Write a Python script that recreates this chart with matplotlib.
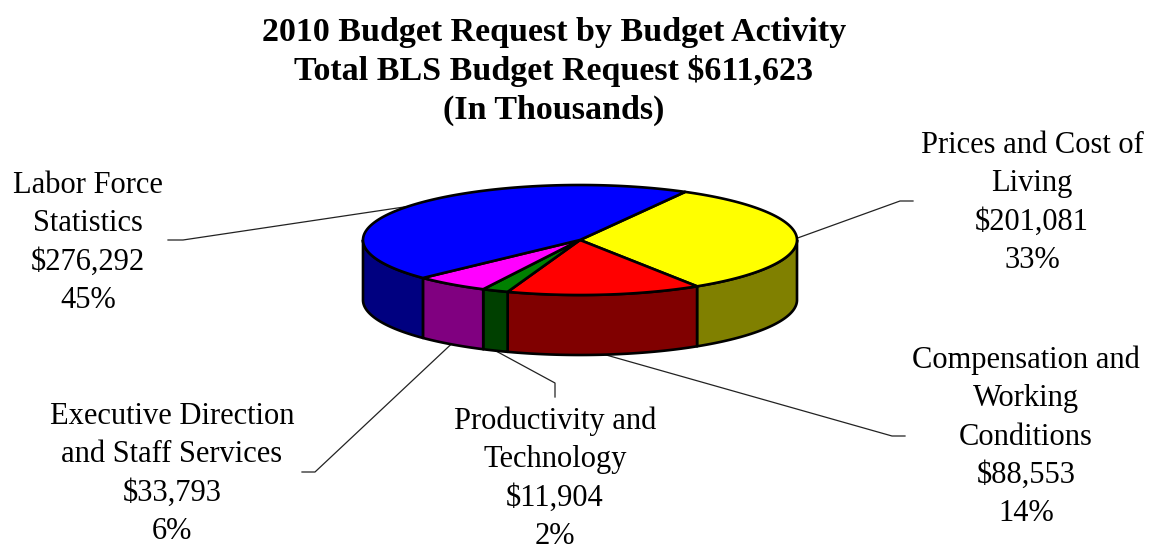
import numpy as np
import matplotlib
matplotlib.use("Agg")
import matplotlib.pyplot as plt
from matplotlib.patches import Polygon

# ---- data ----
categories = ["Prices and Cost of\nLiving",
              "Compensation and\nWorking\nConditions",
              "Productivity and\nTechnology",
              "Executive Direction\nand Staff Services",
              "Labor Force\nStatistics"]
values = [201081, 88553, 11904, 33793, 276292]
top_colors = ["#FFFF00", "#FF0000", "#008000", "#FF00FF", "#0000FF"]
side_colors = ["#808000", "#800000", "#004000", "#800080", "#000080"]
title_lines = ["2010 Budget Request by Budget Activity",
               "Total BLS Budget Request $611,623",
               "(In Thousands)"]

# ---- layout (pixel space) ----
W, H = 1153, 552
cx, cy = 580, 240          # center of top face
ra, rb = 217, 55           # ellipse semi-axes
depth = 60
start_deg = 61.0           # boundary at which first slice begins (clockwise)
# label layout: (center x, first baseline y), and elbow path points
label_pos = [(1032, 153), (1026, 368), (555, 429), (172, 424), (88, 193)]
elbows = [[(900, 201), (913, 201)],
          [(892, 436), (905, 436)],
          [(555, 383), (555, 397)],
          [(315, 472), (302, 472)],
          [(183, 240), (168, 240)]]
line_step = 38.3

fig = plt.figure(figsize=(W / 100, H / 100), dpi=100)
ax = fig.add_axes([0, 0, 1, 1])
ax.set_xlim(0, W)
ax.set_ylim(H, 0)
ax.axis("off")

total = float(sum(values))
fracs = [v / total for v in values]

def pt(t, dy=0.0):
    r = np.radians(t)
    return cx + ra * np.cos(r), cy - rb * np.sin(r) + dy

# compute slice angle ranges (clockwise from start)
ranges = []
a = start_deg
for f in fracs:
    b = a - 360 * f
    ranges.append((b, a))   # lo, hi
    a = b

lw = 1.9
# side walls (front half: angles in [-180, 0] mod 360)
for (lo, hi), sc in zip(ranges, side_colors):
    for base in (-360, 0, 360):
        s = max(lo, -180 + base)
        e = min(hi, 0 + base)
        if e > s:
            ts = np.linspace(s, e, 80)
            top = [pt(t) for t in ts]
            bot = [pt(t, depth) for t in ts[::-1]]
            ax.add_patch(Polygon(top + bot, closed=True, facecolor=sc,
                                 edgecolor="black", lw=lw, joinstyle="round",
                                 zorder=2))

# top faces
for (lo, hi), tc in zip(ranges, top_colors):
    ts = np.linspace(hi, lo, 200)
    poly = [(cx, cy)] + [pt(t) for t in ts]
    ax.add_patch(Polygon(poly, closed=True, facecolor=tc, edgecolor="black",
                         lw=lw, joinstyle="round", zorder=3))

# labels & leader lines
serif = "Liberation Serif"
for i, (cat, v, f) in enumerate(zip(categories, values, fracs)):
    lo, hi = ranges[i]
    mid = (lo + hi) / 2
    dy = depth if np.sin(np.radians(mid)) < 0 else 0
    ax_pt = pt(mid, dy)
    path = [ax_pt] + elbows[i]
    xs, ys = zip(*path)
    ax.plot(xs, ys, color="#222222", lw=0.9, zorder=1)
    lines = cat.split("\n") + [f"${v:,}", f"{round(f * 100)}%"]
    x0, y0 = label_pos[i]
    for k, ln in enumerate(lines):
        ax.text(x0, y0 + k * line_step, ln, ha="center", va="baseline",
                fontsize=22, family=serif, color="black")

for k, ln in enumerate(title_lines):
    ax.text(554, 41 + k * 39, ln, ha="center", va="baseline", fontsize=24.5,
            family=serif, fontweight="bold", color="black")

fig.savefig("out.png", dpi=100, facecolor="white")
